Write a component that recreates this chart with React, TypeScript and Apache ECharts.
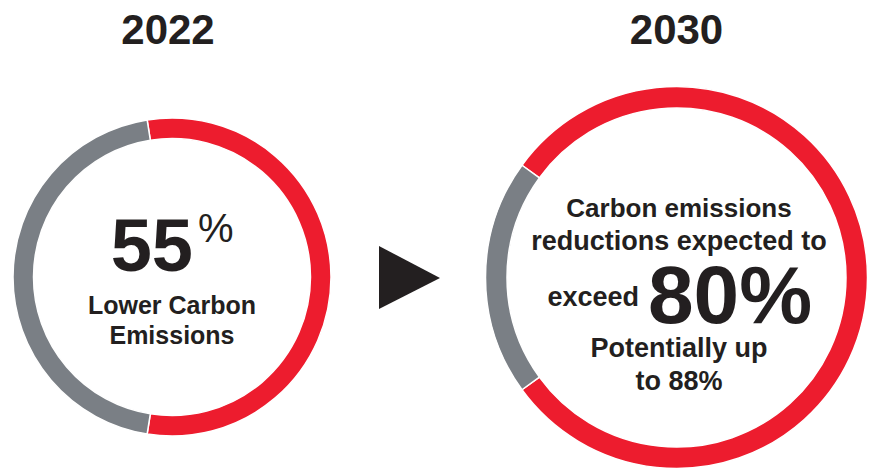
import React, { useEffect, useRef } from "react";
import * as echarts from "echarts";

const years = ["2022", "2030"];
const sliceNames = ["Lower carbon emissions", "Remaining"];
const values2022 = [55, 45];
const values2030 = [80, 20];
const potential2030 = 88;
const leftLines = ["Lower Carbon", "Emissions"];
const rightLines = ["Carbon emissions", "reductions expected to", "exceed", "Potentially up", "to 88%"];

const RED = "#ED1C2E";
const GRAY = "#7A7F85";
const INK = "#231F20";
const FONT = "'Liberation Sans', Arial, Helvetica, sans-serif";

export default function App() {
  const ref = useRef<HTMLDivElement>(null);
  useEffect(() => {
    document.body.style.margin = "0";
    const chart = echarts.init(ref.current!, null, { renderer: "svg" });
    const mkData = (vals: number[]) =>
      vals.map((v, i) => ({ name: sliceNames[i], value: v, itemStyle: { color: i === 0 ? RED : GRAY } }));
    const txt = (
      text: string,
      x: number,
      y: number,
      size: number,
      align: string,
      weight: string = "bold",
      lh?: number
    ) => ({
      type: "text",
      x,
      y,
      silent: true,
      style: {
        text,
        fill: INK,
        font: `${weight} ${size}px ${FONT}`,
        lineHeight: lh ?? Math.round(size * 0.95),
        textAlign: align,
        textVerticalAlign: "middle",
      },
    });
    chart.setOption({
      animation: false,
      backgroundColor: "#ffffff",
      series: [
        {
          type: "pie",
          silent: true,
          center: [172, 277],
          radius: [138.5, 159],
          startAngle: 99,
          clockwise: true,
          label: { show: false },
          labelLine: { show: false },
          emphasis: { disabled: true },
          itemStyle: { borderColor: "#ffffff", borderWidth: 1.5 },
          data: mkData(values2022),
        },
        {
          type: "pie",
          silent: true,
          center: [676.5, 277.5],
          radius: [169.5, 191],
          startAngle: 144,
          clockwise: true,
          label: { show: false },
          labelLine: { show: false },
          emphasis: { disabled: true },
          itemStyle: { borderColor: "#ffffff", borderWidth: 1.5 },
          data: mkData(values2030),
        },
      ],
      graphic: [
        txt(years[0], 168, 29, 42, "center"),
        txt(years[1], 676.5, 29, 42, "center"),
        txt(String(values2022[0]), 193, 245, 74, "right", "bold", 58),
        txt("%", 198, 228, 40, "left", "normal", 32),
        txt(leftLines[0], 172, 305, 25, "center"),
        txt(leftLines[1], 172, 334.5, 25, "center"),
        txt(rightLines[0], 679, 207.5, 26, "center"),
        txt(rightLines[1], 679, 241, 27, "center"),
        txt(rightLines[2], 639, 297, 27, "right"),
        txt(`${values2030[0]}%`, 648, 294.5, 82, "left", "bold", 60),
        txt(rightLines[3], 679, 347.5, 27, "center"),
        txt(`to ${potential2030}%`, 679, 380.5, 27, "center"),
        {
          type: "polygon",
          silent: true,
          shape: { points: [[379, 246], [379, 309], [440, 278]] },
          style: { fill: INK },
        },
      ],
    });
    return () => chart.dispose();
  }, []);
  return <div ref={ref} style={{ width: 872, height: 468 }} />;
}
